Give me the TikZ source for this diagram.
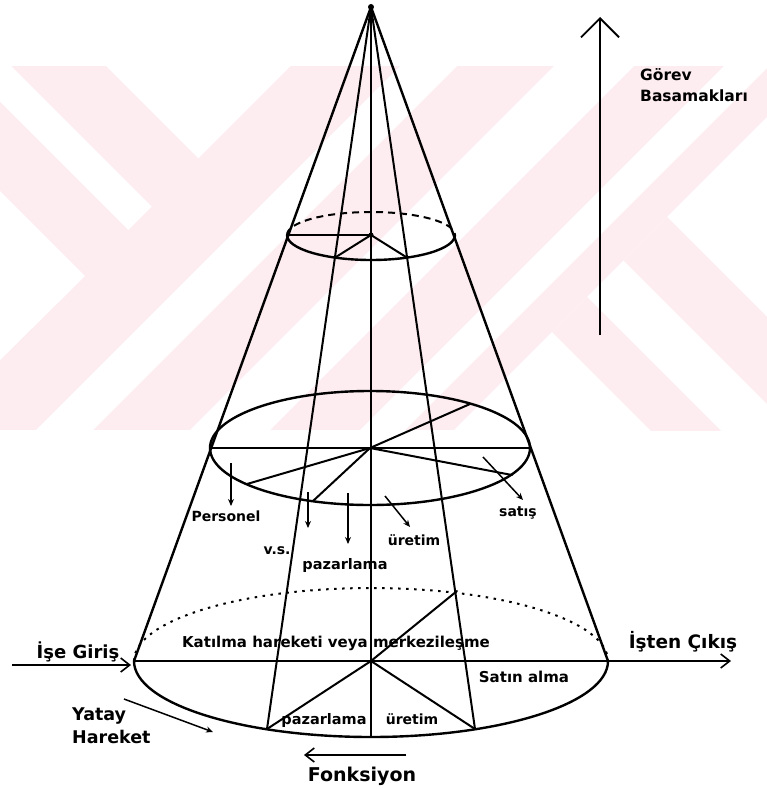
\documentclass[tikz,border=0pt]{standalone}
\usepackage{fontspec}
\setmainfont{DejaVu Sans}
\usetikzlibrary{arrows.meta}
\definecolor{wmpink}{RGB}{253,236,240}
\begin{document}
\begin{tikzpicture}[x=1pt,y=-1pt,
  wm/.style={fill=wmpink},
  gap/.style={fill=white},
  conel/.style={line width=2.4pt,line cap=round,line join=round},
  rib/.style={line width=2pt,line cap=round},
  backdot/.style={line width=2pt,dash pattern=on 2.5pt off 5.5pt},
  backdash/.style={line width=2pt,dash pattern=on 7pt off 5pt},
  barb/.style={line width=1.6pt,-{Straight Barb[length=9pt,width=14pt,line width=1.6pt]}},
  bigbarb/.style={line width=1.8pt,-{Straight Barb[length=19pt,width=38pt,line width=1.8pt]}},
  tick/.style={line width=1.5pt,-{Stealth[length=7pt,width=6pt]}},
  lbl/.style={font=\bfseries\fontsize{#1}{#1}\selectfont,inner sep=0pt,anchor=base},
  lblw/.style={font=\bfseries\fontsize{#1}{#1}\selectfont,inner sep=0pt,anchor=base west},
]
\useasboundingbox (0,0) rectangle (767,789);

% pale background pattern
\begin{scope}
  \clip (0,66) rectangle (767,430);
  \fill[wm] (0,66) rectangle (767,430);
  \fill[gap] (-20,35) -- (151.7,206.7) -- (128.3,230) -- (-20,81.7) -- cycle;
  \fill[gap] (76,36) -- (198.3,158.3) -- (336.7,20) -- cycle;
  \fill[gap] (-20,171) -- (85,276) -- (-20,380) -- cycle;
  \fill[gap] (16,450) -- (73,450) -- (503,20) -- (446,20) -- cycle;
  \fill[gap] (170,450) -- (250,450) -- (680,20) -- (600,20) -- cycle;
  \fill[gap] (340,450) -- (385,450) -- (815,20) -- (770,20) -- cycle;
  \begin{scope}
    \clip (434,450) -- (864,20) -- (900,20) -- (900,450) -- cycle;
    \fill[gap] (434,450) -- (864,20) -- (900,20) -- (900,450) -- cycle;
    \fill[wm] (450,0) -- (900,450) -- (813,450) -- (363,0) -- cycle;
    \fill[wm] (290,0) -- (740,450) -- (670,450) -- (220,0) -- cycle;
  \end{scope}
\end{scope}

% key points of the cone
\coordinate (apex) at (371,7);
\coordinate (bC) at (371,661);
\coordinate (bL) at (134,661);
\coordinate (bR) at (608,661);
\coordinate (bIL) at (267,729);
\coordinate (bIR) at (475,729);
\coordinate (bBot) at (371,737);
\coordinate (bUR) at (457,591);
\coordinate (mC) at (370,448);
\coordinate (mL) at (210,448);
\coordinate (mR) at (530,448);
\coordinate (m1) at (470,404);
\coordinate (m2) at (247,484);
\coordinate (m3) at (313,501);
\coordinate (m4) at (512,475);
\coordinate (tC) at (371,235);
\coordinate (tL) at (287,235);
\coordinate (tIL) at (335,257.6);
\coordinate (tIR) at (407,257.6);

% cone surface lines
\draw[conel] (apex) -- (bL);
\draw[conel] (apex) -- (bR);
\draw[rib] (apex) -- (bIL);
\draw[rib] (apex) -- (bIR);
\draw[rib] (apex) -- (bBot);
\fill (apex) circle[radius=3];

% base
\draw[conel] (bL) arc[start angle=180,end angle=0,x radius=237,y radius=76];
\draw[backdot] (bL) arc[start angle=180,end angle=360,x radius=237,y radius=73];
\draw[conel] (bL) -- (bR);
\draw[rib] (bC) -- (bUR);
\draw[rib] (bC) -- (bIL);
\draw[rib] (bC) -- (bIR);

% middle section
\draw[conel] (mC) ellipse[x radius=160,y radius=57];
\draw[conel] (mL) -- (mR);
\draw[rib] (mC) -- (m1);
\draw[rib] (mC) -- (m2);
\draw[rib] (mC) -- (m3);
\draw[rib] (mC) -- (m4);

% top section
\draw[conel] (tL) arc[start angle=180,end angle=0,x radius=84,y radius=25];
\draw[backdash] (tL) arc[start angle=180,end angle=360,x radius=84,y radius=23];
\draw[rib] (tL) -- (tC);
\draw[rib] (tC) -- (tIL);
\draw[rib] (tC) -- (tIR);
\fill (tC) circle[radius=2.5];

% small pointers in the middle section
\coordinate (pa) at (231,463); \coordinate (pb) at (231,506);
\coordinate (va) at (308,492); \coordinate (vb) at (308,528);
\coordinate (za) at (348,493); \coordinate (zb) at (348,544);
\coordinate (ua) at (385,496); \coordinate (ub) at (410,527);
\coordinate (sa) at (483,457); \coordinate (sb) at (523,500);
\draw[tick] (pa) -- (pb);
\draw[tick] (va) -- (vb);
\draw[tick] (za) -- (zb);
\draw[tick] (ua) -- (ub);
\draw[tick] (sa) -- (sb);

% labels of the middle section
\node[lbl=14] (personel) at (226,521.5) {Personel};
\node[lbl=14] (vs) at (277,554) {v.s.};
\node[lbl=14.5] (pazar1) at (345,569) {pazarlama};
\node[lbl=14] (uretim1) at (414,545.5) {üretim};
\node[lbl=14] (satis) at (518,516.5) {satış};

% labels of the base
\node[lbl=15] (katilma) at (336,647.3) {Katılma hareketi veya merkezileşme};
\node[lbl=15] (satinalma) at (524,682.5) {Satın alma};
\node[lbl=14.5] (pazar2) at (324,724) {pazarlama};
\node[lbl=14] (uretim2) at (412,724) {üretim};

% entry and exit
\coordinate (inS) at (12,665);
\coordinate (inE) at (131,665);
\draw[barb] (inS) -- (inE);
\node[lbl=18] (ise) at (78,658.3) {İşe Giriş};
\coordinate (outE) at (731,661);
\draw[barb] (bR) -- (outE);
\node[lbl=18.5] (isten) at (683,648.3) {İşten Çıkış};

% horizontal movement
\coordinate (yS) at (124,699);
\coordinate (yE) at (213,732);
\draw[tick] (yS) -- (yE);
\node[lblw=17.5] (yatay) at (72,720) {Yatay};
\node[lblw=17.5] (hareket) at (72,743.3) {Hareket};

% function
\coordinate (fS) at (406,755);
\coordinate (fE) at (304,755);
\draw[barb] (fS) -- (fE);
\node[lbl=19] (fonk) at (362,781.7) {Fonksiyon};

% task levels
\coordinate (gS) at (600,335);
\coordinate (gE) at (600,17);
\draw[bigbarb] (gS) -- (gE);
\node[lblw=15.5] (gorev) at (640,80.7) {Görev};
\node[lblw=15.5] (basamak) at (640,101.7) {Basamakları};
\end{tikzpicture}
\end{document}
